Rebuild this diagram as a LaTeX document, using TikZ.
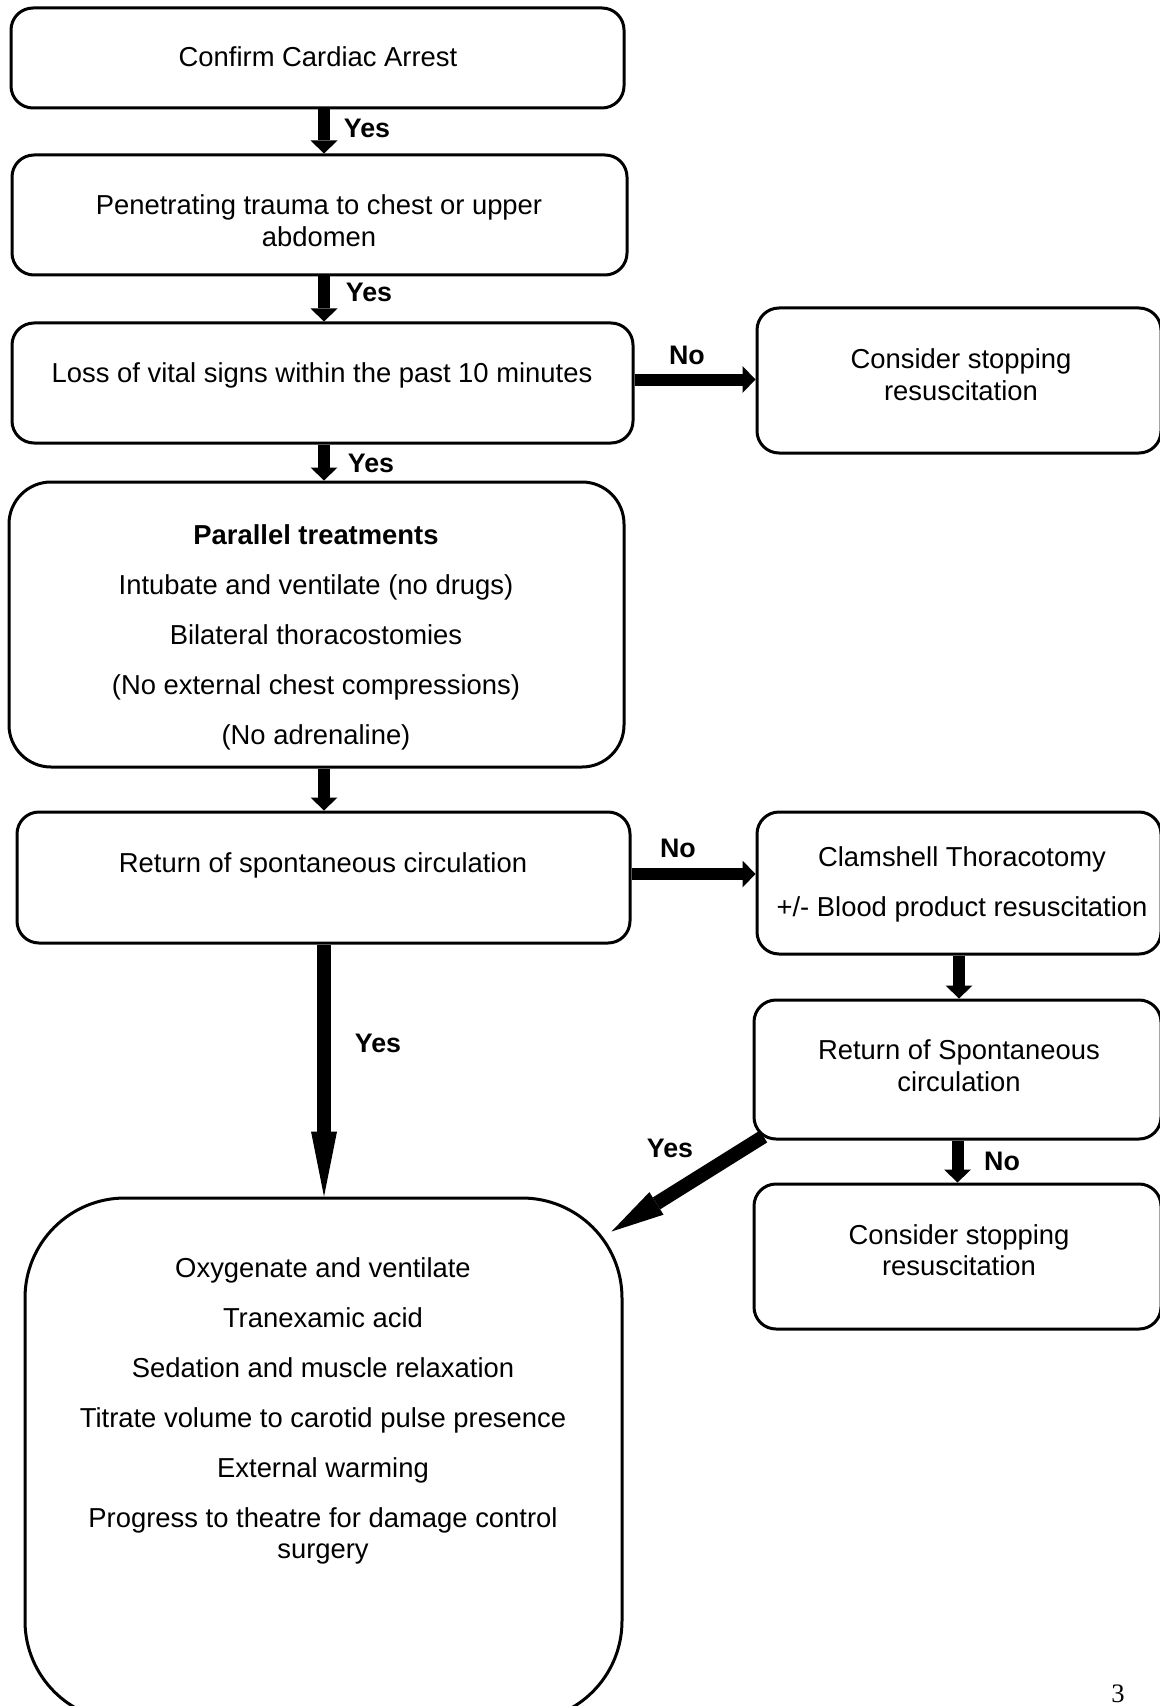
\documentclass[tikz,border=0pt]{standalone}
\usepackage{fontspec}
\setmainfont{Liberation Sans}
\newfontfamily\pagefont{Liberation Serif}
\usetikzlibrary{arrows.meta}
\usetikzlibrary{calc}
\tikzset{box/.style={draw, line width=1.5pt, rounded corners=11pt, inner sep=0pt},
    txt/.style={align=center, inner sep=0pt, font=\fontsize{13.7}{15.8}\selectfont},
    lbl/.style={inner sep=0pt, font=\fontsize{13.4}{15}\selectfont\bfseries},
    arr/.style={line width=6pt, -{Triangle[width=13.5pt,length=6.5pt,line width=0pt]}},
    longarr/.style={line width=7pt, -{Triangle[width=13pt,length=32.5pt,line width=0pt]}},
    diagarr/.style={line width=7pt, -{Triangle[width=13.3pt,length=26.5pt,line width=0pt]}}
}

\begin{document}
\begin{tikzpicture}[x=0.5pt,y=-0.5pt]
                \useasboundingbox (0,0) rectangle (1160,1706);
                
                % Left column
                \node[box, minimum width=306.5pt, minimum height=50pt] (confirm) at (317.5,58) {};
                \node[box, minimum width=307.5pt, minimum height=60pt] (trauma) at (319.5,215) {};
                \node[box, minimum width=310.5pt, minimum height=60pt] (loss) at (322.5,383) {};
                \node[box, rounded corners=21pt, minimum width=307.5pt, minimum height=142.5pt] (parallel) at (316.5,624.5) {};
                \node[box, minimum width=306.5pt, minimum height=65.5pt] (rosc) at (323.5,877.5) {};
                \node[box, rounded corners=50pt, minimum width=298.5pt, minimum height=261.5pt] (post) at (323.5,1459.5) {};
                
                % Right column (runs off the right edge)
                \node[box, minimum width=202pt, minimum height=72.5pt] (stopA) at (959,380.5) {};
                \node[box, minimum width=202pt, minimum height=71pt] (clam) at (959,883) {};
                \node[box, minimum width=203.5pt, minimum height=69.5pt] (roscB) at (957.5,1069.5) {};
                \node[box, minimum width=203.5pt, minimum height=72.5pt] (stopB) at (957.5,1256.5) {};
                
                % Texts
                \node[txt] (tconfirm) at (318,56.5) {Confirm Cardiac Arrest};
                \node[txt] (ttrauma) at (319,220.5) {Penetrating trauma to chest or upper\\abdomen};
                \node[txt] (tloss) at (322,375) {Loss of vital signs within the past 10 minutes};
                \node[txt] (tparallel) at (316,637) {\textbf{Parallel treatments}\\[9.2pt]
                    Intubate and ventilate (no drugs)\\[9.2pt]
                    Bilateral thoracostomies\\[9.2pt]
                    (No external chest compressions)\\[9.2pt]
                    (No adrenaline)};
                \node[txt] (trosc) at (323,865) {Return of spontaneous circulation};
                \node[txt] (tpost) at (323,1411) {Oxygenate and ventilate\\[9.2pt]
                    Tranexamic acid\\[9.2pt]
                    Sedation and muscle relaxation\\[9.2pt]
                    Titrate volume to carotid pulse presence\\[9.2pt]
                    External warming\\[9.2pt]
                    Progress to theatre for damage control\\surgery};
                \node[txt] (tstopA) at (961,375) {Consider stopping\\resuscitation};
                \node[txt] (tclam) at (962,884) {Clamshell Thoracotomy\\[9.2pt]+/- Blood product resuscitation};
                \node[txt] (troscB) at (959,1066) {Return of Spontaneous\\circulation};
                \node[txt] (tstopB) at (959,1250) {Consider stopping\\resuscitation};
                
                % Arrows
                \coordinate (spine) at (324,0);
                \draw[arr] (confirm.south -| spine) -- (trauma.north -| spine);
                \draw[arr] (trauma.south -| spine) -- (loss.north -| spine);
                \draw[arr] (loss.south -| spine) -- (parallel.north -| spine);
                \draw[arr] (parallel.south -| spine) -- (rosc.north -| spine);
                \draw[longarr] (rosc.south -| spine) -- (post.north -| spine);
                \draw[arr] ($(loss.east)+(0,-3.5)$) -- ($(loss.east -| stopA.west)+(0,-3.5)$);
                \draw[arr] ($(rosc.east)+(0,-3.5)$) -- ($(rosc.east -| clam.west)+(0,-3.5)$);
                \draw[arr] (clam.south) -- (clam.south |- roscB.north);
                \draw[arr] (roscB.south) -- (roscB.south |- stopB.north);
                \coordinate (diagfrom) at ($(roscB.south west)+(11,-4)$);
                \coordinate (diagto) at ($(post.north east)+(-12,35)$);
                \draw[diagarr] (diagfrom) -- (diagto);
                
                % Labels
                \node[lbl] (yesA) at (367,128) {Yes};
                \node[lbl] (yesB) at (369,292) {Yes};
                \node[lbl] (yesC) at (371,463) {Yes};
                \node[lbl] (noA) at (687,355) {No};
                \node[lbl] (noB) at (678,848) {No};
                \node[lbl] (yesD) at (378,1043) {Yes};
                \node[lbl] (yesE) at (670,1148) {Yes};
                \node[lbl] (noC) at (1002,1161) {No};
                
                \node[inner sep=0pt, font=\pagefont\fontsize{13.3}{15}\selectfont] (page) at (1118,1694) {3};
            \end{tikzpicture}
\end{document}
